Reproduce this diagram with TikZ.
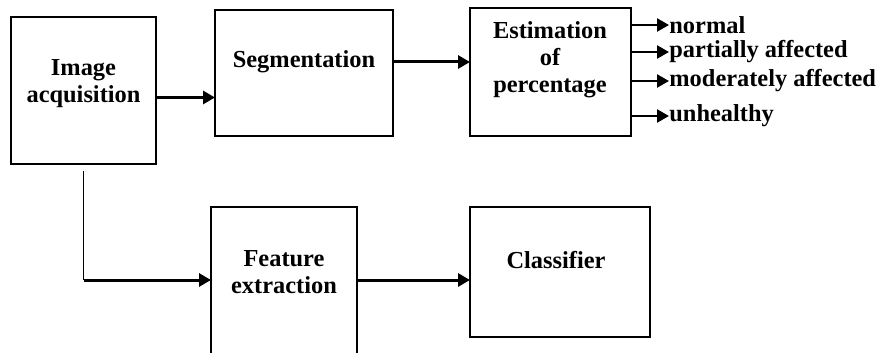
\documentclass[tikz,border=0pt]{standalone}
\usepackage{fontspec}
\setmainfont{Liberation Serif}
\usetikzlibrary{arrows.meta}
\tikzstyle{block}=[draw,line width=0.6pt,inner sep=0pt,outer sep=0pt]
\tikzstyle{caption}=[font=\fontsize{12.2}{13.5}\selectfont\bfseries,align=center,inner sep=0pt]
\tikzstyle{result}=[font=\fontsize{12.2}{13.5}\selectfont\bfseries,anchor=west,inner sep=0pt]
\tikzstyle{flow}=[line width=1.5pt,-{Triangle[length=6pt,width=6.5pt]}]

\begin{document}
\begin{tikzpicture}[x=0.5pt,y=-0.5pt]
  \useasboundingbox (0,0) rectangle (878,353);
  \begin{scope}
  \clip (0,0) rectangle (878,353);
% boxes
  \node[block,minimum width=72.5pt,minimum height=73.5pt] (acq)  at (83.5,90.5) {};
  \node[block,minimum width=89pt,minimum height=63pt]     (seg)  at (304,73)    {};
  \node[block,minimum width=80.5pt,minimum height=64pt]   (est)  at (550.5,72)  {};
  \node[block,minimum width=73pt,minimum height=80pt]     (feat) at (284,287)   {};
  \node[block,minimum width=90pt,minimum height=65pt]     (cls)  at (560,272)   {};
  \end{scope}
% texts
  \node[caption] (acqtext)  at (83.5,84)  {Image\\acquisition};
  \node[caption] (segtext)  at (304,62)   {Segmentation};
  \node[caption] (esttext)  at (550,60)   {Estimation\\of\\percentage};
  \node[caption] (feattext) at (284,272)  {Feature\\extraction};
  \node[caption] (clstext)  at (556,260)  {Classifier};
% outcomes
  \node[result] (normal)   at (669,25)  {normal};
  \node[result] (partial)  at (669,52)  {partially affected};
  \node[result] (moderate) at (669,81)  {moderately affected};
  \node[result] (unhealthy) at (669,116) {unhealthy};
% connectors
  \draw[flow] ([yshift=-3.5pt]acq.east) -- ([yshift=-3.5pt]acq.east -| seg.west);
  \draw[flow] ([yshift=5.5pt]seg.east) -- ([yshift=5.5pt]seg.east -| est.west);
  \foreach \o in {normal,partial,moderate,unhealthy}
    \draw[flow,line width=1.2pt] (est.east |- \o.west) -- (\o.west);
  \coordinate (bend) at (83.5,280);
  \draw[line width=0.6pt] ([yshift=-3.5pt]acq.south) -- (bend);
  \draw[flow] (bend) -- (bend -| feat.west);
  \draw[flow] (bend -| feat.east) -- (bend -| cls.west);
\end{tikzpicture}
\end{document}
